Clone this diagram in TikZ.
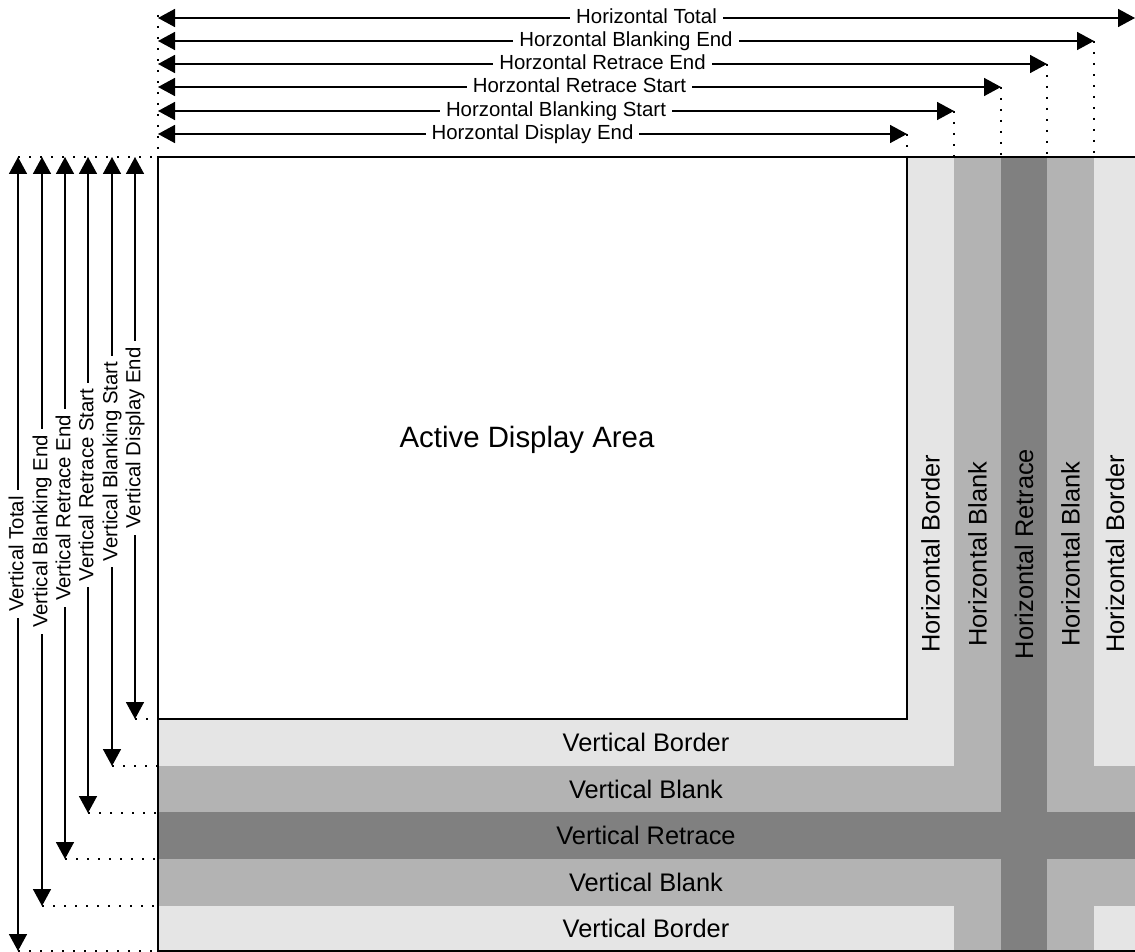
\documentclass[tikz,border=0pt]{standalone}
\usepackage{fontspec}
\setmainfont{Liberation Sans}
\usetikzlibrary{arrows.meta}
\definecolor{lightband}{RGB}{229,229,229}
\definecolor{midband}{RGB}{179,179,179}
\definecolor{darkband}{RGB}{128,128,128}
\begin{document}
\fontsize{20.4}{24}\selectfont
\begin{tikzpicture}[x=1pt,y=-1pt,
  dim/.style={line width=1.6pt, {Triangle[length=17pt,width=18pt]}-{Triangle[length=17pt,width=18pt]}},
  dimlabel/.style={fill=white, inner xsep=6pt, inner ysep=0pt, font=\fontsize{20.4}{24}\selectfont, anchor=mid},
  guide/.style={line width=2pt, dash pattern=on 2pt off 9pt},
  bandlabel/.style={font=\fontsize{25.4}{30}\selectfont, inner sep=0pt},
  frame/.style={line width=2.5pt}
]
\useasboundingbox (0,0) rectangle (1135,952);
% corners
\coordinate (TL) at (158,157);
\coordinate (TR) at (1135,157);
\coordinate (BL) at (158,951);
\coordinate (BR) at (1135,951);
\coordinate (AR) at (907,719);
% bands
\fill[lightband] (TL) rectangle (BR);
\fill[midband] (954,157) rectangle (1001,951);
\fill[midband] (1047,157) rectangle (1094,951);
\fill[midband] (158,766) rectangle (1135,812);
\fill[midband] (158,859) rectangle (1135,906);
\fill[darkband] (1001,157) rectangle (1047,951);
\fill[darkband] (158,812) rectangle (1135,859);
\fill[white] (TL) rectangle (AR);
% frame
\draw[frame] (TR) -- (TL) -- (BL) -- (BR);
\draw[line width=2pt] (907,157) -- (AR) -- (158,719);
% band labels
\node[bandlabel] (vb1) at (646,742.5) {Vertical Border};
\node[bandlabel] (vb2) at (646,789) {Vertical Blank};
\node[bandlabel] (vr) at (646,835.5) {Vertical Retrace};
\node[bandlabel] (vb3) at (646,882.5) {Vertical Blank};
\node[bandlabel] (vb4) at (646,928.5) {Vertical Border};
\node[bandlabel,rotate=90] (hb1) at (930.5,554) {Horizontal Border};
\node[bandlabel,rotate=90] (hb2) at (977.5,554) {Horizontal Blank};
\node[bandlabel,rotate=90] (hr) at (1024,554) {Horizontal Retrace};
\node[bandlabel,rotate=90] (hb3) at (1070.5,554) {Horizontal Blank};
\node[bandlabel,rotate=90] (hb4) at (1115,554) {Horizontal Border};
\node[font=\fontsize{29.4}{34}\selectfont, inner sep=0pt, anchor=base] (act) at (527,447) {Active Display Area};
% guides
\draw[guide] (158,15) -- (TL);
\draw[guide] (18,157) -- (TL);
% horizontal dimension arrows
\foreach \i/\y/\xr/\txt in {1/18/1135/Horizontal Total,
                            2/41/1094/Horzontal Blanking End,
                            3/64/1047/Horzontal Retrace End,
                            4/87/1001/Horzontal Retrace Start,
                            5/111/954/Horzontal Blanking Start,
                            6/134/907/Horzontal Display End}{
  \coordinate (hL\i) at (158,\y);
  \coordinate (hR\i) at (\xr,\y);
  \coordinate (hG\i) at (\xr,157);
  \ifnum\i>1 \draw[guide] (hR\i) -- (hG\i);\fi
  \draw[dim] (hL\i) -- (hR\i) node[dimlabel, midway] (hlab\i) {\txt};
}
% vertical dimension arrows
\foreach \i/\x/\yb/\txt in {1/18/951/Vertical Total,
                            2/42/906/Vertical Blanking End,
                            3/65/859/Vertical Retrace End,
                            4/88/813/Vertical Retrace Start,
                            5/112/766/Vertical Blanking Start,
                            6/135/719/Vertical Display End}{
  \coordinate (vT\i) at (\x,157);
  \coordinate (vB\i) at (\x,\yb);
  \coordinate (vG\i) at (158,\yb);
  \draw[guide] (vB\i) -- (vG\i);
  \draw[dim] (vT\i) -- (vB\i) node[dimlabel, midway, rotate=90] (vlab\i) {\txt};
}
\end{tikzpicture}
\end{document}
